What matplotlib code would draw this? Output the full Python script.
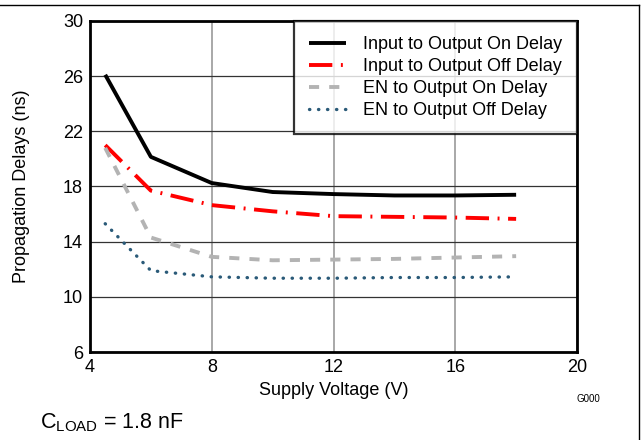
import matplotlib
matplotlib.use("Agg")
import matplotlib.pyplot as plt
from matplotlib.lines import Line2D

plt.rcParams['font.family'] = ['Liberation Sans', 'DejaVu Sans']
plt.rcParams['mathtext.fontset'] = 'custom'
plt.rcParams['mathtext.rm'] = 'Liberation Sans'

# supply voltage (V)
vdd = [4.5, 6, 8, 10, 12, 14, 16, 18]

# propagation delays (ns)
in_on = [26.1, 20.15, 18.25, 17.6, 17.45, 17.35, 17.35, 17.4]
in_off = [21.0, 17.7, 16.65, 16.2, 15.85, 15.8, 15.75, 15.65]
en_on = [20.8, 14.3, 12.9, 12.65, 12.7, 12.75, 12.85, 12.95]
en_off = [15.3, 11.9, 11.45, 11.35, 11.35, 11.4, 11.4, 11.45]

labels = ["Input to Output On Delay", "Input to Output Off Delay",
          "EN to Output On Delay", "EN to Output Off Delay"]

xticks = [4, 8, 12, 16, 20]
yticks = [6, 10, 14, 18, 22, 26, 30]

fig = plt.figure(figsize=(6.44, 4.40), dpi=100)
ax = fig.add_axes([90 / 644, 88 / 440, 487 / 644, 331 / 440])

ax.plot(vdd, in_on, color='black', lw=2.8, solid_capstyle='butt', label=labels[0])
ax.plot(vdd, in_off, color='#ff0000', lw=2.8, linestyle=(0, (6.0, 2.2, 0.5, 2.2)),
        label=labels[1])
ax.plot(vdd, en_on, color='#b3b3b3', lw=2.8, linestyle=(0, (2.6, 2.6)), label=labels[2])
ax.plot(vdd, en_off, color='#2a5a78', lw=2.4, linestyle=(0, (0.1, 2.6)),
        dash_capstyle='round', label=labels[3])

ax.set_xlim(4, 20)
ax.set_ylim(6, 30)
ax.set_xticks(xticks)
ax.set_yticks(yticks)
ax.tick_params(length=0, labelsize=13, pad=5)
ax.xaxis.grid(True, color='#999999', lw=1.2)
ax.yaxis.grid(True, color='#333333', lw=0.9)
ax.set_axisbelow(True)
for s in ax.spines.values():
    s.set_linewidth(2.0)
    s.set_color('black')

ax.set_xlabel("Supply Voltage (V)", fontsize=13, labelpad=4)
ax.set_ylabel("Propagation Delays (ns)", fontsize=13, labelpad=24)

leg = ax.legend(loc='upper right', fontsize=13, frameon=True, fancybox=False,
                borderaxespad=0, handlelength=2.05, labelspacing=0.27,
                borderpad=0.85, handletextpad=0.9)
leg.get_frame().set_edgecolor('black')
leg.get_frame().set_linewidth(1.6)

fig.text(588 / 644, 1 - 399 / 440, "G000", fontsize=7, ha='center', va='center')
fig.text(40 / 644, 1 - 423 / 440, r"C$_{\mathrm{LOAD}}$ = 1.8 nF", fontsize=15.5,
         ha='left', va='center')

# frame lines at top and right of the figure
fig.add_artist(Line2D([0, 638.5 / 644], [1 - 5.5 / 440, 1 - 5.5 / 440],
                      transform=fig.transFigure, color='black', lw=1.0))
fig.add_artist(Line2D([638.5 / 644, 638.5 / 644], [0, 1 - 5.5 / 440],
                      transform=fig.transFigure, color='black', lw=1.0))

fig.savefig("out.png", dpi=100)
